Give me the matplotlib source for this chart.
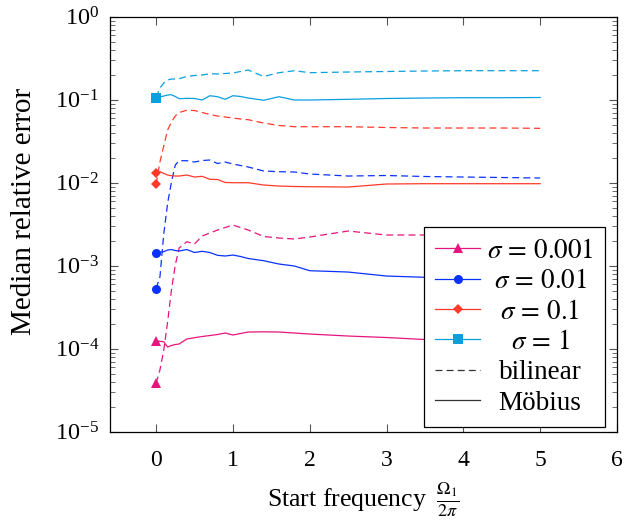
import matplotlib
matplotlib.use("Agg")
import matplotlib.pyplot as plt
from matplotlib.lines import Line2D

plt.rcParams['font.family'] = ['Liberation Serif', 'DejaVu Serif']
plt.rcParams['mathtext.fontset'] = 'stix'
plt.rcParams['lines.scale_dashes'] = False

# Start frequency Omega_1 / (2 pi)
x = [0, 0.05, 0.1, 0.15, 0.2, 0.25, 0.3, 0.4, 0.5, 0.6, 0.7, 0.8, 0.9, 1.0,
     1.1, 1.2, 1.4, 1.6, 1.8, 2.0, 2.5, 3.0, 3.5, 4.0, 4.5, 5.0]

# sigma = 0.001
mob_0001 = [1.248e-4, 1.228e-4, 1.214e-4, 1.048e-4, 1.093e-4, 1.124e-4, 1.139e-4, 1.309e-4,
            1.357e-4, 1.403e-4, 1.442e-4, 1.483e-4, 1.546e-4, 1.463e-4, 1.524e-4, 1.589e-4,
            1.598e-4, 1.589e-4, 1.546e-4, 1.503e-4, 1.422e-4, 1.364e-4, 1.291e-4, 1.256e-4,
            1.221e-4, 1.188e-4]
bil_0001 = [3.83e-5, 5.54e-5, 9.65e-5, 2.098e-4, 5.095e-4, 1.019e-3, 1.634e-3, 1.946e-3,
            1.825e-3, 2.280e-3, 2.477e-3, 2.692e-3, 2.885e-3, 3.093e-3, 2.885e-3, 2.692e-3,
            2.249e-3, 2.157e-3, 2.098e-3, 2.217e-3, 2.618e-3, 2.344e-3, 2.344e-3, 2.344e-3,
            2.344e-3, 2.344e-3]

# sigma = 0.01
mob_001 = [1.434e-3, 1.462e-3, 1.474e-3, 1.545e-3, 1.567e-3, 1.524e-3, 1.503e-3, 1.567e-3,
           1.442e-3, 1.491e-3, 1.442e-3, 1.334e-3, 1.309e-3, 1.345e-3, 1.291e-3, 1.221e-3,
           1.149e-3, 1.048e-3, 9.92e-4, 8.71e-4, 8.39e-4, 7.51e-4, 7.25e-4, 7.11e-4,
           7.01e-4, 6.92e-4]
bil_001 = [5.31e-4, 7.31e-4, 2.409e-3, 5.646e-3, 1.020e-2, 1.634e-2, 1.841e-2, 1.841e-2,
           1.776e-2, 1.851e-2, 1.877e-2, 1.703e-2, 1.776e-2, 1.680e-2, 1.611e-2, 1.546e-2,
           1.384e-2, 1.357e-2, 1.346e-2, 1.273e-2, 1.204e-2, 1.221e-2, 1.188e-2, 1.171e-2,
           1.155e-2, 1.139e-2]

# sigma = 0.1
mob_01 = [1.309e-2, 1.364e-2, 1.291e-2, 1.238e-2, 1.214e-2, 1.204e-2, 1.204e-2, 1.238e-2,
          1.171e-2, 1.194e-2, 1.099e-2, 1.093e-2, 1.006e-2, 1.000e-2, 1.000e-2, 1.000e-2,
          9.38e-3, 9.12e-3, 9.00e-3, 8.95e-3, 8.87e-3, 9.65e-3, 9.73e-3, 9.73e-3,
          9.73e-3, 9.73e-3]
bil_01 = [9.57e-3, 1.776e-2, 2.769e-2, 4.313e-2, 5.385e-2, 6.362e-2, 7.011e-2, 7.470e-2,
          7.408e-2, 7.011e-2, 6.633e-2, 6.362e-2, 6.188e-2, 6.018e-2, 5.854e-2, 5.741e-2,
          5.238e-2, 4.888e-2, 4.727e-2, 4.727e-2, 4.727e-2, 4.624e-2, 4.560e-2, 4.560e-2,
          4.560e-2, 4.522e-2]

# sigma = 1
mob_1 = [0.1057, 0.1078, 0.1108, 0.1139, 0.1148, 0.1093, 0.1028, 0.1039, 0.1034, 0.0992,
         0.1117, 0.1087, 0.1011, 0.1117, 0.1093, 0.1048, 0.0984, 0.1087, 0.0992, 0.0992,
         0.1011, 0.1034, 0.1048, 0.1057, 0.1057, 0.1063]
bil_1 = [0.1057, 0.1384, 0.1589, 0.1727, 0.1776, 0.1776, 0.1791, 0.1904, 0.1957, 0.1984,
         0.2057, 0.2040, 0.2069, 0.2098, 0.2187, 0.2280, 0.1904, 0.2115, 0.2236, 0.2115,
         0.2157, 0.2187, 0.2217, 0.2236, 0.2236, 0.2236]

labels = [r'$\sigma \,=\, 0.001$', r'$\sigma \,=\, 0.01$', r'$\sigma \,=\, 0.1$', r'$\sigma \,=\, 1$']
colors = ['#E6147F', '#0A32FF', '#FF3A2A', '#0AA0E0']
markers = ['^', 'o', 'D', 's']
msizes = [6.5, 6.5, 5.0, 6.5]
mobius = [mob_0001, mob_001, mob_01, mob_1]
bilinear = [bil_0001, bil_001, bil_01, bil_1]

fig = plt.figure(figsize=(6.26, 5.27), dpi=100)
ax = fig.add_axes([0.1757, 0.1808, 0.8099, 0.7875])

lw = 0.9
for mob, bil, c, m, ms in zip(mobius, bilinear, colors, markers, msizes):
    ax.plot(x, bil, color=c, lw=lw, dashes=(5, 3))
    ax.plot(x, mob, color=c, lw=lw)
    ax.plot(x[:1], bil[:1], color=c, marker=m, ms=ms, lw=0, mew=0)
    ax.plot(x[:1], mob[:1], color=c, marker=m, ms=ms, lw=0, mew=0)

ax.set_yscale('log')
ax.set_xlim(-0.6, 6)
ax.set_ylim(1e-5, 1)
ax.set_xticks([0, 1, 2, 3, 4, 5, 6])
ax.tick_params(which='both', direction='in', top=True, right=True, labelsize=17)
ax.tick_params(which='major', length=6, width=0.8, color='#555555')
ax.tick_params(which='minor', length=3.5, width=0.6, color='#555555')
ax.tick_params(axis='x', which='major', pad=13)
ax.tick_params(axis='y', which='major', pad=8, labelsize=17.5)
for s in ax.spines.values():
    s.set_linewidth(0.9)

ax.set_ylabel('Median relative error', fontsize=21)
ax.yaxis.set_label_coords(-0.143, 0.53)
ax.set_xlabel(r'Start frequency $\;\frac{\Omega_1}{2\pi}$', fontsize=18.5, labelpad=7)

handles = []
for c, m, ms, lab in zip(colors, markers, msizes, labels):
    handles.append(Line2D([], [], color=c, marker=m, ms=ms, lw=lw, mew=0, label=lab))
handles.append(Line2D([], [], color='#333333', lw=lw, dashes=(5, 3), label='bilinear'))
handles.append(Line2D([], [], color='#333333', lw=lw, label='Möbius'))
leg = ax.legend(handles=handles, loc='lower right', bbox_to_anchor=(0.976, 0.011),
                fontsize=19.5, frameon=True, fancybox=False, edgecolor='black',
                framealpha=1, handlelength=1.65, labelspacing=0.2, borderpad=0.42,
                handletextpad=0.25, borderaxespad=0)
leg.get_frame().set_linewidth(0.9)

# center legend texts like the reference
fig.canvas.draw()
r = fig.canvas.get_renderer()
texts = leg.get_texts()
widths = [t.get_window_extent(r).width for t in texts]
maxw = max(widths)
for t, w in zip(texts, widths):
    t.set_x((maxw - w) / 2.0)

fig.savefig('out.png', dpi=100)
